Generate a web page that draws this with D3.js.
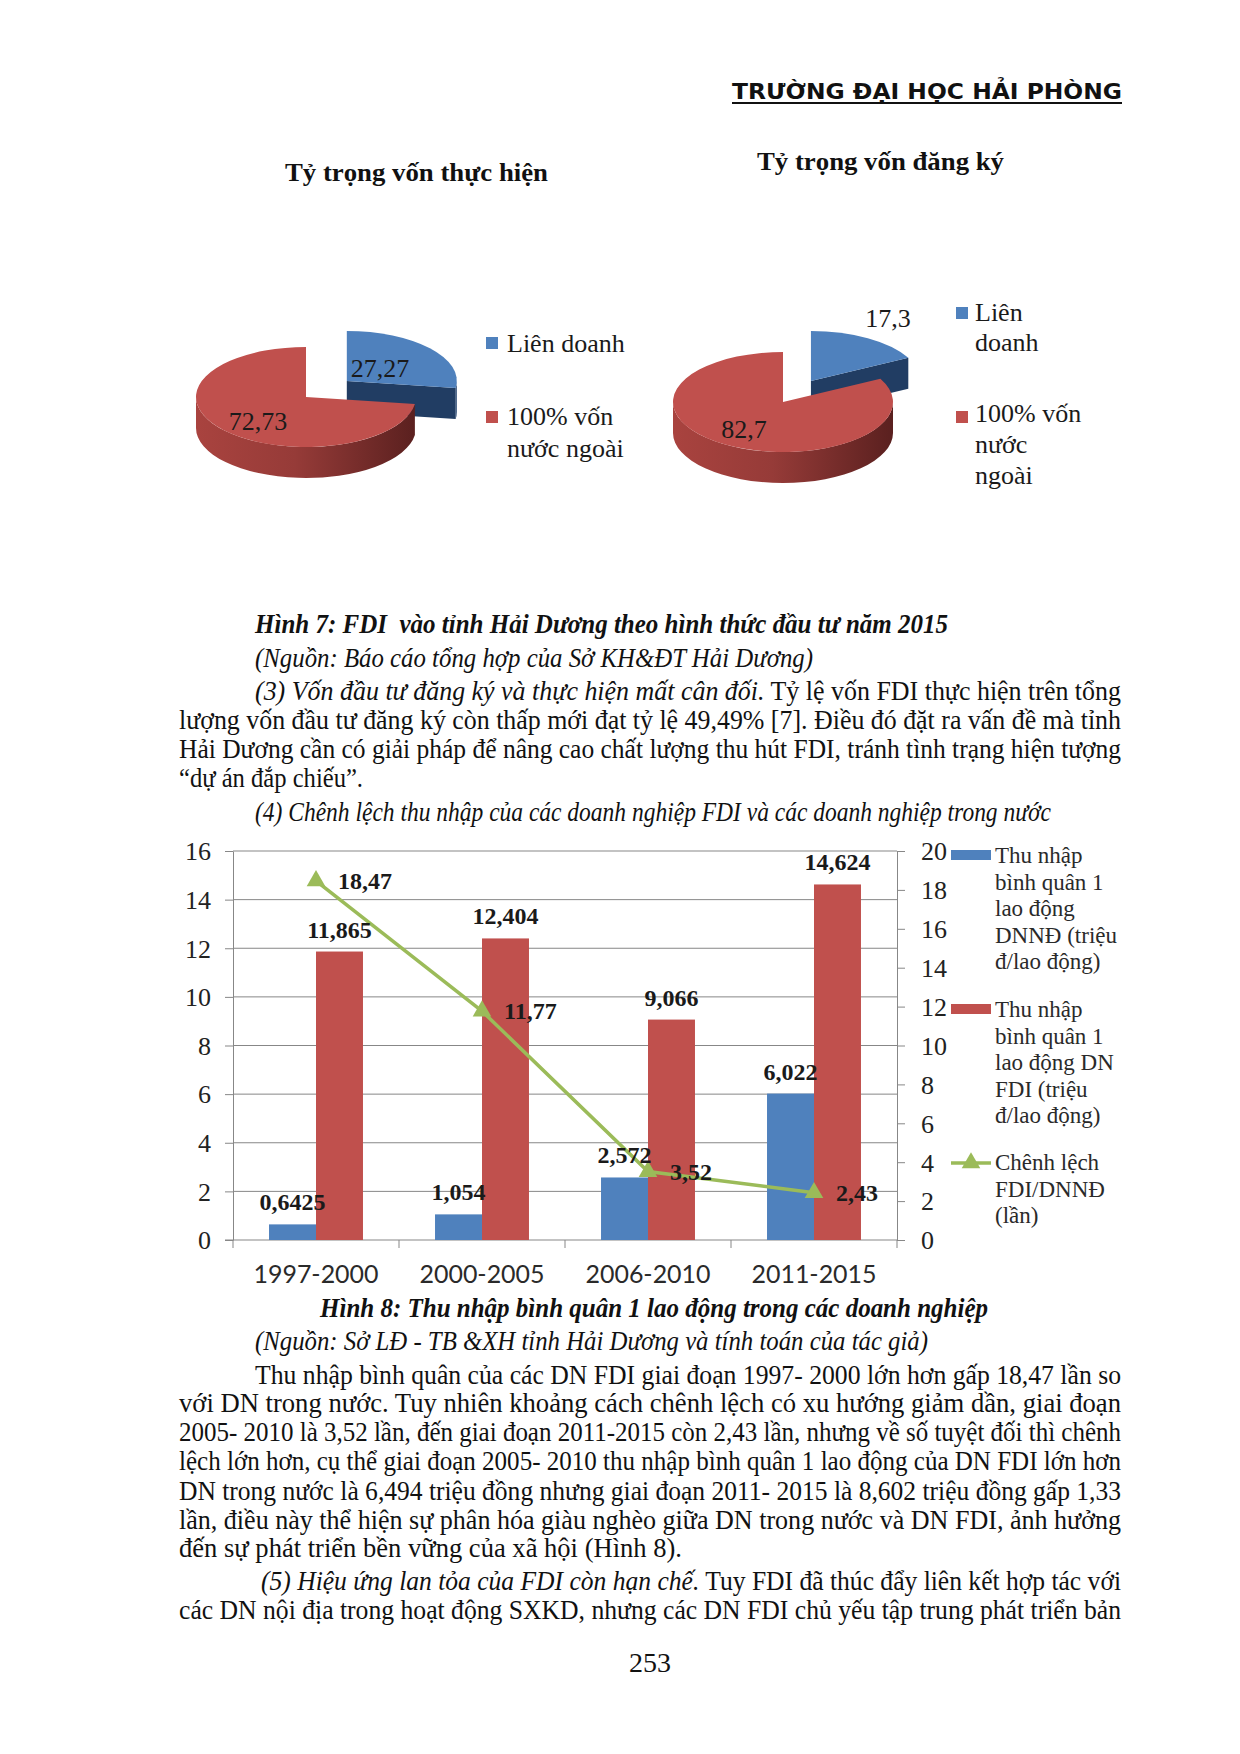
<!DOCTYPE html>
<html><head><meta charset="utf-8">
<script src="https://cdn.jsdelivr.net/npm/d3@7"></script>
<style>body{margin:0;background:#fff}svg{display:block}text{white-space:pre}</style>
</head><body>
<svg id="page" width="1240" height="1754"></svg>
<script>
// ---------------- DATA ----------------
const headerText = "TRƯỜNG ĐẠI HỌC HẢI PHÒNG";
const pieTitles = ["Tỷ trọng vốn thực hiện", "Tỷ trọng vốn đăng ký"];
const pieCategories = ["Liên doanh", "100% vốn nước ngoài"];
const pieRealized = [27.27, 72.73];
const pieRegistered = [17.3, 82.7];
const legendLinesPie1 = [["Liên doanh"], ["100% vốn", "nước ngoài"]];
const legendLinesPie2 = [["Liên", "doanh"], ["100% vốn", "nước", "ngoài"]];

const periods = ["1997-2000", "2000-2005", "2006-2010", "2011-2015"];
const incomeDomestic = [0.6425, 1.054, 2.572, 6.022];
const incomeFDI = [11.865, 12.404, 9.066, 14.624];
const incomeRatio = [18.47, 11.77, 3.52, 2.43];
const leftTicks = [0, 2, 4, 6, 8, 10, 12, 14, 16];
const rightTicks = [0, 2, 4, 6, 8, 10, 12, 14, 16, 18, 20];
const seriesLegend = [
  ["Thu nhập", "bình quân 1", "lao động", "DNNĐ (triệu", "đ/lao động)"],
  ["Thu nhập", "bình quân 1", "lao động DN", "FDI (triệu", "đ/lao động)"],
  ["Chênh lệch", "FDI/DNNĐ", "(lần)"]
];

const textTop = [
  {seg:[["Hình 7: FDI  vào tỉnh Hải Dương theo hình thức đầu tư năm 2015","bi"]], x:255, w:693, y:633},
  {seg:[["(Nguồn: Báo cáo tổng hợp của Sở KH&ĐT Hải Dương)","i"]], x:255, w:558, y:667},
  {seg:[["(3) Vốn đầu tư đăng ký và thực hiện mất cân đối.","i"],[" Tỷ lệ vốn FDI thực hiện trên tổng","r"]], x:255, w:866, y:700},
  {seg:[["lượng vốn đầu tư đăng ký còn thấp mới đạt tỷ lệ 49,49% [7]. Điều đó đặt ra vấn đề mà tỉnh","r"]], x:179, w:942, y:729},
  {seg:[["Hải Dương cần có giải pháp để nâng cao chất lượng thu hút FDI, tránh tình trạng hiện tượng","r"]], x:179, w:942, y:758},
  {seg:[["“dự án đắp chiếu”.","r"]], x:179, w:184, y:787},
  {seg:[["(4) Chênh lệch thu nhập của các doanh nghiệp FDI và các doanh nghiệp trong nước","i"]], x:255, w:796, y:821}
];
const textBottom = [
  {seg:[["Hình 8: Thu nhập bình quân 1 lao động trong các doanh nghiệp","bi"]], x:320, w:668, y:1317},
  {seg:[["(Nguồn: Sở LĐ - TB &XH tỉnh Hải Dương và tính toán của tác giả)","i"]], x:255, w:673, y:1350},
  {seg:[["Thu nhập bình quân của các DN FDI giai đoạn 1997- 2000 lớn hơn gấp 18,47 lần so","r"]], x:255, w:866, y:1384},
  {seg:[["với DN trong nước. Tuy nhiên khoảng cách chênh lệch có xu hướng giảm dần, giai đoạn","r"]], x:179, w:942, y:1412},
  {seg:[["2005- 2010 là 3,52 lần, đến giai đoạn 2011-2015 còn 2,43 lần, nhưng về số tuyệt đối thì chênh","r"]], x:179, w:942, y:1441},
  {seg:[["lệch lớn hơn, cụ thể giai đoạn 2005- 2010 thu nhập bình quân 1 lao động của DN FDI lớn hơn","r"]], x:179, w:942, y:1470},
  {seg:[["DN trong nước là 6,494 triệu đồng nhưng giai đoạn 2011- 2015 là 8,602 triệu đồng gấp 1,33","r"]], x:179, w:942, y:1500},
  {seg:[["lần, điều này thể hiện sự phân hóa giàu nghèo giữa DN trong nước và DN FDI, ảnh hưởng","r"]], x:179, w:942, y:1529},
  {seg:[["đến sự phát triển bền vững của xã hội (Hình 8).","r"]], x:179, w:503, y:1557},
  {seg:[["(5) Hiệu ứng lan tỏa của FDI còn hạn chế.","i"],[" Tuy FDI đã thúc đẩy liên kết hợp tác với","r"]], x:261, w:860, y:1590},
  {seg:[["các DN nội địa trong hoạt động SXKD, nhưng các DN FDI chủ yếu tập trung phát triển bản","r"]], x:179, w:942, y:1619}
];
const pageNumber = "253";

// ---------------- HELPERS ----------------
const SERIF = "'Liberation Serif','Times New Roman',serif";
const svg = d3.select("#page");
const defs = svg.append("defs");
const fmt = v => String(v).replace(".", ",");

function gradient(id, x1, x2, stops) {
  const g = defs.append("linearGradient").attr("id", id)
    .attr("gradientUnits", "userSpaceOnUse").attr("x1", x1).attr("x2", x2).attr("y1", 0).attr("y2", 0);
  stops.forEach(s => g.append("stop").attr("offset", s[0]).attr("stop-color", s[1]));
}

function textLine(line, size) {
  const t = svg.append("text").attr("x", line.x).attr("y", line.y)
    .attr("font-family", SERIF).attr("font-size", size).attr("fill", "#111")
    .attr("textLength", line.w).attr("lengthAdjust", "spacingAndGlyphs");
  line.seg.forEach(s => {
    t.append("tspan").text(s[0])
      .attr("font-style", s[1].includes("i") ? "italic" : "normal")
      .attr("font-weight", s[1].includes("b") ? "bold" : "normal");
  });
}

// ---------------- HEADER ----------------
svg.append("text").attr("x", 732).attr("y", 99).text(headerText)
  .attr("font-family", "'DejaVu Sans',sans-serif").attr("font-weight", "bold").attr("font-size", 22)
  .attr("textLength", 390).attr("lengthAdjust", "spacingAndGlyphs").attr("fill", "#111");
svg.append("rect").attr("x", 732).attr("y", 102).attr("width", 390).attr("height", 2).attr("fill", "#111");

// ---------------- 3D PIES ----------------
function pie3d(values, o) {
  const g = svg.append("g");
  const k = o.ry / o.rx;
  const arcs = d3.pie().sort(null)(values);
  const P = (c, a, dz) => [c[0] + o.rx * Math.sin(a), c[1] - o.ry * Math.cos(a) + (dz || 0)];
  const colors = [
    {top: "#4F81BD", side: "url(#" + o.id + "b)", wall: "#213d63"},
    {top: "#C0504D", side: "url(#" + o.id + "r)", wall: "#7a2c2a"}
  ];
  gradient(o.id + "r", o.cx - o.rx, o.cx + o.rx, [[0, "#a9433f"], [0.45, "#963b38"], [1, "#5a201f"]]);
  gradient(o.id + "b", o.cx, o.cx + o.rx + 60, [[0, "#1d3658"], [1, "#2c4b76"]]);
  [0, 1].forEach(i => {
    const a = arcs[i];
    const mid = (a.startAngle + a.endAngle) / 2;
    const d = i === o.explode ? o.dist : 0;
    const c = [o.cx + d * Math.sin(mid), o.cy - d * Math.cos(mid) * k];
    const col = colors[i];
    [[a.startAngle, a.startAngle - Math.PI / 2], [a.endAngle, a.endAngle + Math.PI / 2]].forEach(([ang, nrm]) => {
      if (Math.cos(nrm) < -0.01) {
        const p = P(c, ang);
        g.append("path").attr("fill", col.wall)
          .attr("d", `M${c[0]},${c[1]}L${p[0]},${p[1]}L${p[0]},${p[1] + o.depth}L${c[0]},${c[1] + o.depth}Z`);
      }
    });
    const s = Math.max(a.startAngle, Math.PI / 2), e = Math.min(a.endAngle, 3 * Math.PI / 2);
    if (e > s) {
      const p1 = P(c, s), p2 = P(c, e);
      g.append("path").attr("fill", col.side)
        .attr("d", `M${p1[0]},${p1[1]}A${o.rx},${o.ry} 0 0 1 ${p2[0]},${p2[1]}L${p2[0]},${p2[1] + o.depth}` +
          `A${o.rx},${o.ry} 0 0 0 ${p1[0]},${p1[1] + o.depth}Z`);
    }
    g.append("path").attr("fill", col.top)
      .attr("transform", `translate(${c[0]},${c[1]}) scale(1,${k})`)
      .attr("d", d3.arc().innerRadius(0).outerRadius(o.rx)(a));
  });
  o.labels.forEach((l, i) => {
    g.append("text").attr("x", l[0]).attr("y", l[1]).attr("text-anchor", "middle")
      .attr("font-family", SERIF).attr("font-size", 26).attr("fill", "#1a1a1a").text(fmt(values[i]));
  });
  g.append("text").attr("x", o.title[0]).attr("y", o.title[1]).text(o.titleText)
    .attr("font-family", SERIF).attr("font-weight", "bold").attr("font-size", 26).attr("fill", "#111")
    .attr("textLength", o.title[2]).attr("lengthAdjust", "spacingAndGlyphs");
  o.legend.forEach((lg, i) => {
    g.append("rect").attr("x", lg.sx).attr("y", lg.sy).attr("width", 12).attr("height", 12)
      .attr("fill", colors[i].top);
    lg.lines.forEach((ln, j) => {
      g.append("text").attr("x", lg.tx).attr("y", lg.ty[j]).text(ln)
        .attr("font-family", SERIF).attr("font-size", 26).attr("fill", "#1a1a1a");
    });
  });
}

pie3d(pieRealized, {
  id: "p1", cx: 306, cy: 397, rx: 110, ry: 50, depth: 31, explode: 0, dist: 54,
  labels: [[380, 377], [258, 430]],
  titleText: pieTitles[0], title: [285, 181, 263],
  legend: [
    {sx: 486, sy: 337, tx: 507, ty: [352], lines: legendLinesPie1[0]},
    {sx: 486, sy: 411, tx: 507, ty: [425, 457], lines: legendLinesPie1[1]}
  ]
});
pie3d(pieRegistered, {
  id: "p2", cx: 783, cy: 402, rx: 110, ry: 50, depth: 31, explode: 0, dist: 54,
  labels: [[888, 327], [744, 438]],
  titleText: pieTitles[1], title: [757, 170, 247],
  legend: [
    {sx: 956, sy: 307, tx: 975, ty: [321, 351], lines: legendLinesPie2[0]},
    {sx: 956, sy: 411, tx: 975, ty: [422, 453, 484], lines: legendLinesPie2[1]}
  ]
});

// ---------------- TEXT ----------------
textTop.forEach(l => textLine(l, 27));

// ---------------- BAR + LINE CHART ----------------
const X0 = 233, X1 = 897, YT = 851, YB = 1240;
const axisCol = "#878787";
const xCat = d3.scaleBand().domain(periods).range([X0, X1]).padding(0);
const groupW = xCat.bandwidth() * 0.566;
const xSub = d3.scaleBand().domain(["dom", "fdi"]).range([0, groupW]);
const yL = d3.scaleLinear().domain([0, 16]).range([YB, YT]);
const yR = d3.scaleLinear().domain([0, 20]).range([YB, YT]);
const ch = svg.append("g");

ch.append("g").selectAll("line").data(leftTicks.filter(v => v > 0)).join("line")
  .attr("x1", X0).attr("x2", X1).attr("y1", d => yL(d)).attr("y2", d => yL(d))
  .attr("stroke", axisCol).attr("stroke-width", 1);

const gL = ch.append("g").attr("transform", `translate(${X0},0)`)
  .call(d3.axisLeft(yL).tickValues(leftTicks).tickSize(8).tickSizeOuter(0).tickPadding(14).tickFormat(d3.format("d")));
const gR = ch.append("g").attr("transform", `translate(${X1},0)`)
  .call(d3.axisRight(yR).tickValues(rightTicks).tickSize(8).tickSizeOuter(0).tickPadding(16).tickFormat(d3.format("d")));
[gL, gR].forEach(g => {
  g.selectAll("path,line").attr("stroke", axisCol);
  g.selectAll("text").attr("font-family", SERIF).attr("font-size", 26).attr("fill", "#222").attr("dy", "0.34em");
});
ch.append("line").attr("x1", X0 - 8).attr("x2", X1).attr("y1", YB).attr("y2", YB).attr("stroke", axisCol);
ch.append("g").selectAll("line").data(periods.map(p => xCat(p)).concat([X1])).join("line")
  .attr("x1", d => d).attr("x2", d => d).attr("y1", YB).attr("y2", YB + 8).attr("stroke", axisCol);
ch.append("g").selectAll("text").data(periods).join("text")
  .attr("x", d => xCat(d) + xCat.bandwidth() / 2).attr("y", 1283).attr("text-anchor", "middle")
  .attr("font-family", "Lato,'Open Sans',sans-serif").attr("font-size", 25).attr("fill", "#2a2a2a")
  .attr("textLength", 125).attr("lengthAdjust", "spacingAndGlyphs").text(d => d);

const barData = [];
periods.forEach((p, i) => {
  barData.push({p, key: "dom", v: incomeDomestic[i], c: "#4F81BD"});
  barData.push({p, key: "fdi", v: incomeFDI[i], c: "#C0504D"});
});
const bx = d => xCat(d.p) + (xCat.bandwidth() - groupW) / 2 + xSub(d.key);
ch.append("g").selectAll("rect").data(barData).join("rect")
  .attr("x", bx).attr("width", xSub.bandwidth())
  .attr("y", d => yL(d.v)).attr("height", d => YB - yL(d.v)).attr("fill", d => d.c);

const lineData = periods.map((p, i) => ({p, v: incomeRatio[i]}));
const lx = d => xCat(d.p) + xCat.bandwidth() / 2;
ch.append("path").datum(lineData)
  .attr("d", d3.line().x(lx).y(d => yR(d.v)))
  .attr("fill", "none").attr("stroke", "#9BBB59").attr("stroke-width", 3.5);
const tri = d3.symbol().type(d3.symbolTriangle).size(150);
ch.append("g").selectAll("path").data(lineData).join("path")
  .attr("transform", d => `translate(${lx(d)},${yR(d.v)})`).attr("d", tri).attr("fill", "#9BBB59");

const labelStyle = s => s.attr("font-family", SERIF).attr("font-weight", "bold").attr("font-size", 24).attr("fill", "#1a1a1a");
ch.append("g").selectAll("text").data(barData).join("text")
  .attr("x", d => bx(d) + xSub.bandwidth() / 2).attr("y", d => yL(d.v) - 14)
  .attr("text-anchor", "middle").text(d => fmt(d.v)).call(labelStyle);
ch.append("g").selectAll("text").data(lineData).join("text")
  .attr("x", d => lx(d) + 22).attr("y", d => yR(d.v) + 8)
  .text(d => fmt(d.v)).call(labelStyle);

const lgX = 951;
ch.append("rect").attr("x", lgX).attr("y", 850).attr("width", 40).attr("height", 10).attr("fill", "#4F81BD");
ch.append("rect").attr("x", lgX).attr("y", 1004).attr("width", 40).attr("height", 10).attr("fill", "#C0504D");
ch.append("line").attr("x1", lgX).attr("x2", lgX + 40).attr("y1", 1163).attr("y2", 1163)
  .attr("stroke", "#9BBB59").attr("stroke-width", 3.5);
ch.append("path").attr("transform", `translate(${lgX + 20},1163)`).attr("d", tri).attr("fill", "#9BBB59");
const legendBase = [863, 1017, 1170];
seriesLegend.forEach((lines, i) => {
  lines.forEach((ln, j) => {
    ch.append("text").attr("x", 995).attr("y", legendBase[i] + j * 26.5).text(ln)
      .attr("font-family", SERIF).attr("font-size", 23).attr("fill", "#2a2a2a");
  });
});

// ---------------- BOTTOM TEXT ----------------
textBottom.forEach(l => textLine(l, 27));
svg.append("text").attr("x", 650).attr("y", 1672).attr("text-anchor", "middle").text(pageNumber)
  .attr("font-family", SERIF).attr("font-size", 28).attr("fill", "#111");
</script>
</body></html>
